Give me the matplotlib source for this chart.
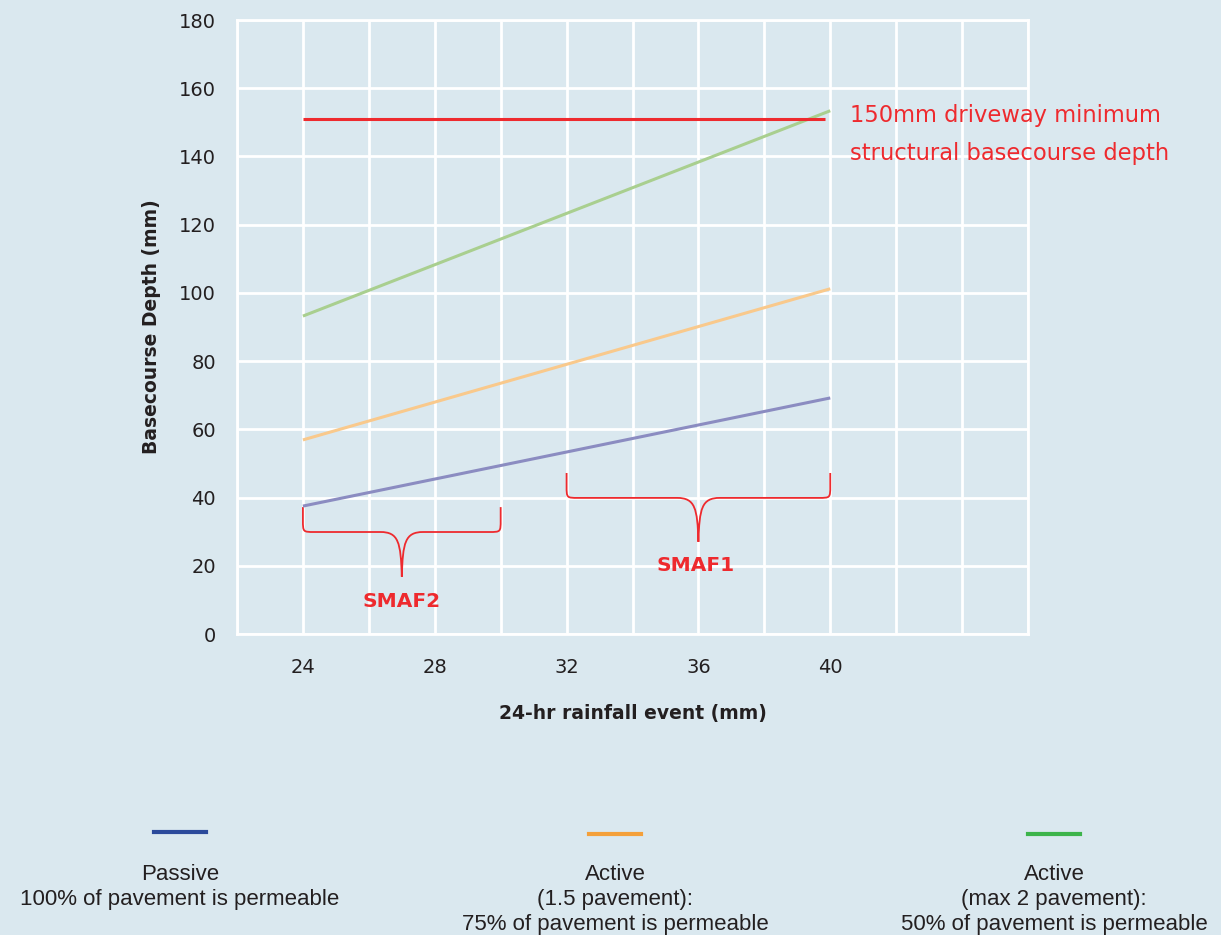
import matplotlib
matplotlib.use("Agg")
import matplotlib.pyplot as plt
from matplotlib.path import Path
from matplotlib.patches import PathPatch
import numpy as np

plt.rcParams['font.family'] = ['DejaVu Sans']

# ---- data ----
rain_x = [24, 40]
passive = [37.5, 69.2]
active_15 = [56.9, 101.2]
active_2 = [93.2, 153.4]
min_depth_x = [24, 39.85]
min_depth = [151, 151]

x_ticks = [24, 28, 32, 36, 40]
y_ticks = [0, 20, 40, 60, 80, 100, 120, 140, 160, 180]

legend_labels = ["Passive\n100% of pavement is permeable",
                 "Active\n(1.5 pavement):\n75% of pavement is permeable",
                 "Active\n(max 2 pavement):\n50% of pavement is permeable"]
legend_colors = ["#2b4a9b", "#f4a03a", "#3cb44a"]

BG = "#dae8ef"
RED = "#ee2a2e"
TXT = "#231f20"

fig = plt.figure(figsize=(12.21, 9.35), dpi=100, facecolor=BG)
ax = fig.add_axes([237/1221, 1-634/935, (1028-237)/1221, (634-20)/935])
ax.set_facecolor(BG)
ax.set_xlim(22, 46)
ax.set_ylim(0, 180)

ax.set_xticks(np.arange(22, 47, 2), minor=True)
ax.set_xticks(x_ticks)
ax.set_yticks(y_ticks)
ax.grid(True, which='both', color='white', linewidth=2)
ax.set_axisbelow(True)
for s in ax.spines.values():
    s.set_color('white')
    s.set_linewidth(2)
ax.tick_params(which='both', length=0)
ax.tick_params(axis='y', pad=15, labelsize=14, labelcolor=TXT)
ax.tick_params(axis='x', pad=17, labelsize=14, labelcolor=TXT)

ax.plot(rain_x, active_2, color='#a9cf8f', lw=2.2, solid_capstyle='butt')
ax.plot(rain_x, active_15, color='#f9c98c', lw=2.2, solid_capstyle='butt')
ax.plot(rain_x, passive, color='#8b8cc1', lw=2.2, solid_capstyle='butt')
ax.plot(min_depth_x, min_depth, color=RED, lw=2.2, solid_capstyle='butt')

ax.set_ylabel("Basecourse Depth (mm)", fontsize=13.5, fontweight='bold', color=TXT, labelpad=13)
ax.set_xlabel("24-hr rainfall event (mm)", fontsize=13.5, fontweight='bold', color=TXT, labelpad=20)

ax.text(40.6, 146.4, "150mm driveway minimum\nstructural basecourse depth", color=RED,
        fontsize=16.3, va='center', ha='left', linespacing=1.82, clip_on=False)


def brace(x0, x1, ytop0, ytop1, ybar, xtip, ytip):
    rx, ry = 0.35, 3.5
    w = 0.65
    verts = [(x0, ytop0), (x0, ybar + ry),
             (x0, ybar), (x0, ybar), (x0 + rx, ybar),
             (xtip - w, ybar),
             (xtip - 0.1, ybar), (xtip - 0.03, ybar - 3), (xtip, ytip),
             (xtip + 0.03, ybar - 3), (xtip + 0.1, ybar), (xtip + w, ybar),
             (x1 - rx, ybar),
             (x1, ybar), (x1, ybar), (x1, ybar + ry),
             (x1, ytop1)]
    codes = [Path.MOVETO, Path.LINETO,
             Path.CURVE4, Path.CURVE4, Path.CURVE4,
             Path.LINETO,
             Path.CURVE4, Path.CURVE4, Path.CURVE4,
             Path.CURVE4, Path.CURVE4, Path.CURVE4,
             Path.LINETO,
             Path.CURVE4, Path.CURVE4, Path.CURVE4,
             Path.LINETO]
    ax.add_patch(PathPatch(Path(verts, codes), fill=False, edgecolor=RED, lw=1.3))


brace(24, 30, 37.2, 37.2, 29.9, 27, 16.8)
brace(32, 40, 47.2, 47.2, 39.9, 36, 27.0)
ax.text(27.0, 9.5, "SMAF2", color=RED, fontsize=14.5, fontweight='semibold', ha='center', va='center')
ax.text(35.9, 20.2, "SMAF1", color=RED, fontsize=14.5, fontweight='semibold', ha='center', va='center')

# legend below
cx = [180, 615, 1054]
ly = [832, 834, 834]
for c, y, col, lab in zip(cx, ly, legend_colors, legend_labels):
    fig.add_artist(plt.Line2D([(c - 26) / 1221, (c + 26) / 1221], [1 - y / 935, 1 - y / 935],
                              color=col, lw=3))
    fig.text(c / 1221, 1 - 864 / 935, lab, ha='center', va='top', fontsize=16,
             color=TXT, linespacing=1.25, family=['Liberation Sans'])

fig.savefig("out.png", dpi=100, facecolor=BG)
